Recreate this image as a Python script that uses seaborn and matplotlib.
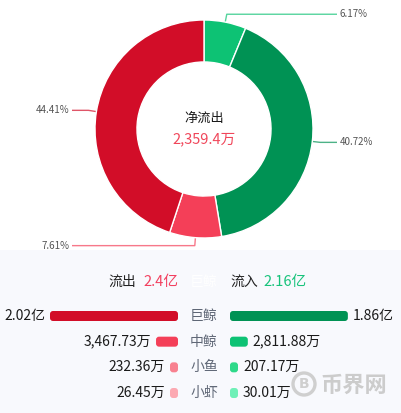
import numpy as np
import pandas as pd
import matplotlib
matplotlib.use("Agg")
import matplotlib.pyplot as plt
import seaborn as sns
from matplotlib.patches import Rectangle, FancyBboxPatch, Circle

# ---- data (amounts in 万) ----
tiers = ["巨鲸", "中鲸", "小鱼", "小虾"]
outflow = [20200.0, 3467.73, 232.36, 26.45]
inflow = [18600.0, 2811.88, 207.17, 30.01]
outflow_labels = ["2.02亿", "3,467.73万", "232.36万", "26.45万"]
inflow_labels = ["1.86亿", "2,811.88万", "207.17万", "30.01万"]

# donut slices, clockwise from 12 o'clock
share_names = ["中鲸流入", "巨鲸流入", "中鲸流出", "巨鲸流出"]
share_pct = [6.17, 40.72, 7.61, 44.41]

total_out_label = "2.4亿"
total_in_label = "2.16亿"
net_title = "净流出"
net_value_label = "2,359.4万"

# ---- styling ----
out_colors = ["#d20d28", "#f43f58", "#f88190", "#fca9b2"]
in_colors = ["#009254", "#0dc274", "#2ed98a", "#6ef0b7"]
pie_colors = ["#0dc274", "#009254", "#f43f58", "#d20d28"]
label_side = ["right", "right", "left", "left"]

sns.set_theme(style="white")
plt.rcParams["font.family"] = ["Noto Sans CJK SC", "DejaVu Sans"]

W, H = 401, 413
fig = plt.figure(figsize=(W / 100, H / 100), dpi=100)


def frac(x0, y0, x1, y1):
    """Pixel box (y down) -> figure fraction rect."""
    return [x0 / W, 1 - y1 / H, (x1 - x0) / W, (y1 - y0) / H]


# canvas in pixel coordinates for backgrounds and free text
bg = fig.add_axes([0, 0, 1, 1], zorder=0)
bg.set_xlim(0, W)
bg.set_ylim(H, 0)
bg.axis("off")
bg.add_patch(Rectangle((0, 250), W, H - 250, color="#f8f9fd", lw=0))

# ---- donut ----
cx, cy, R = 204, 129, 109
pa = fig.add_axes(frac(cx - R, cy - R, cx + R, cy + R), zorder=1)
pa.pie(share_pct, colors=pie_colors, startangle=90, counterclock=False,
       radius=1.0, wedgeprops=dict(width=0.385, edgecolor="white", linewidth=1))
pa.set_xlim(-1, 1)
pa.set_ylim(-1, 1)
pa.axis("off")

fr = np.array(share_pct) / np.sum(share_pct)
mids = (np.cumsum(fr) - fr / 2) * 2 * np.pi
for pct, th, col, side in zip(share_pct, mids, pie_colors, label_side):
    x0, y0 = cx + R * np.sin(th), cy - R * np.cos(th)
    x1, y1 = cx + (R + 8) * np.sin(th), cy - (R + 8) * np.cos(th)
    x2 = 337 if side == "right" else 72
    bg.plot([x0, x1, x2], [y0, y1, y1], color=col, lw=1, alpha=0.7,
            solid_capstyle="butt", zorder=2)
    if side == "right":
        bg.text(x2 + 3, y1, f"{pct:.2f}%", ha="left", va="center",
                fontsize=7, color="#555555", zorder=3)
    else:
        bg.text(x2 - 3, y1, f"{pct:.2f}%", ha="right", va="center",
                fontsize=7, color="#555555", zorder=3)

bg.text(cx, 118, net_title, ha="center", va="center", fontsize=9.5,
        color="#1a1a1a", zorder=3)
bg.text(cx, 139, net_value_label, ha="center", va="center", fontsize=10.5,
        color="#f0465a", zorder=3)

# ---- header row ----
bg.text(108, 282, "流出", ha="left", va="center", fontsize=10, color="#222222")
bg.text(178, 282, total_out_label, ha="right", va="center", fontsize=10.5,
        color="#f2405f")
bg.text(204, 282, "巨鲸", ha="center", va="center", fontsize=10, color="white")
bg.text(230, 282, "流入", ha="left", va="center", fontsize=10, color="#222222")
bg.text(263, 282, total_in_label, ha="left", va="center", fontsize=10.5,
        color="#17c37b")

# ---- tier bars ----
df = pd.DataFrame({"tier": tiers, "outflow": outflow, "inflow": inflow})

row_px = 25.67
y_top = 316 - row_px / 2
y_bot = y_top + 4 * row_px
bar_px = 128                      # pixel length of the largest bar
xmax = max(outflow)
ux = xmax / bar_px                # data units per pixel along x
uy = 1 / row_px                   # data units per pixel along y
min_len = 8 * ux                  # keep tiny amounts visible
bar_h = 10 * uy

la = fig.add_axes(frac(178 - bar_px, y_top, 178, y_bot), zorder=1)
ra = fig.add_axes(frac(230, y_top, 230 + bar_px, y_bot), zorder=1)

for ax, col, colors in ((la, "outflow", out_colors), (ra, "inflow", in_colors)):
    sns.barplot(data=df, x=col, y="tier", hue="tier", palette=colors,
                orient="h", width=bar_h, ax=ax, legend=False, order=tiers,
                hue_order=tiers, saturation=1)
    ax.set_xlim(0, xmax)
    ax.set_ylim(3.5, -0.5)
    ax.axis("off")
    # swap plain bars for rounded ones
    for p in list(ax.patches):
        x, yb, w, h = p.get_x(), p.get_y(), p.get_width(), p.get_height()
        fc = p.get_facecolor()
        p.remove()
        w = max(w, min_len)
        rb = FancyBboxPatch((x, yb), w, h,
                            boxstyle=f"round,pad=0,rounding_size={3 * ux}",
                            mutation_aspect=uy / ux, facecolor=fc,
                            edgecolor="none", clip_on=False)
        ax.add_patch(rb)
la.invert_xaxis()

for i, (vo, vi, lo, li) in enumerate(zip(outflow, inflow, outflow_labels,
                                         inflow_labels)):
    la.text(max(vo, min_len) + 5 * ux, i, lo, ha="right", va="center",
            fontsize=10, color="#1a1a1a", clip_on=False)
    ra.text(max(vi, min_len) + 5 * ux, i, li, ha="left", va="center",
            fontsize=10, color="#1a1a1a", clip_on=False)
    bg.text(204, y_top + (i + 0.5) * row_px, tiers[i], ha="center",
            va="center", fontsize=10, color="#5f6776")

# ---- site mark ----
bg.add_patch(Circle((304, 384), 11, facecolor="none", edgecolor="#cfcfcf",
                    lw=2.4, zorder=1))
bg.text(304, 384.5, "B", ha="center", va="center", fontsize=10,
        fontweight="bold", color="#cfcfcf", family="DejaVu Sans", zorder=1)
bg.text(321, 385, "币界网", ha="left", va="center", fontsize=16,
        fontweight="bold", color="#cccccc", zorder=1)

fig.savefig("out.png", dpi=100)
